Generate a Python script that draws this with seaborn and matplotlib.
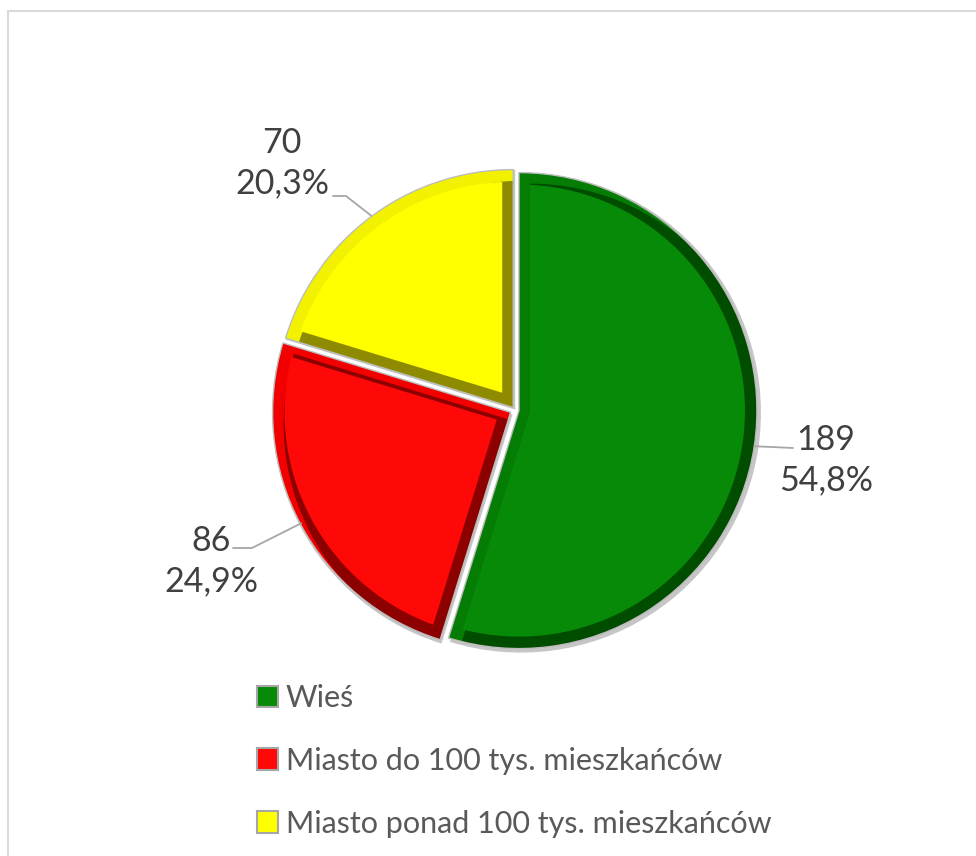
import numpy as np
import matplotlib
matplotlib.use('Agg')
import matplotlib.pyplot as plt
import seaborn as sns
from matplotlib.patches import Wedge, Circle, Patch, Rectangle

# dane
categories = ['Wieś', 'Miasto do 100 tys. mieszkańców', 'Miasto ponad 100 tys. mieszkańców']
counts = [189, 86, 70]
shares = ['54,8%', '24,9%', '20,3%']

face_colors = ['#078a07', '#ff0808', '#ffff00']
dark_colors = ['#004d00', '#8c0000', '#8f8b00']
light_colors = ['#057d05', '#f20000', '#f2f200']

sns.set_theme(style='white')
plt.rcParams['font.family'] = ['Lato', 'DejaVu Sans']

W, H = 976, 856
fig = plt.figure(figsize=(W / 100, H / 100), dpi=100)
ax = fig.add_axes([0, 0, 1, 1])

CX, CY, R = 515, H - 410, 238
wedges, _ = ax.pie(counts, colors=light_colors, startangle=90, counterclock=False,
                   center=(CX, CY), radius=R, explode=[4, 5, 3],
                   wedgeprops=dict(linewidth=0))
ax.set_xlim(0, W); ax.set_ylim(0, H); ax.set_aspect('equal'); ax.axis('off')

# efekt skosu (bevel) dla każdego wycinka
d = 11
for w, dark, face in zip(wedges, dark_colors, face_colors):
    cx, cy = w.center; r = w.r; t1, t2 = w.theta1, w.theta2
    sh = Wedge((cx + 2, cy - 2), r + 2, t1, t2, color='#a0a0a0', alpha=0.6, lw=0, zorder=0.5)
    ax.add_patch(sh)
    w.set_zorder(1)
    dk = Wedge((cx + d, cy - d), r, t1, t2, color=dark, lw=0, zorder=2)
    ax.add_patch(dk); dk.set_clip_path(w)
    half = np.radians((t2 - t1) / 2); mid = np.radians((t1 + t2) / 2)
    s = d / np.sin(half)
    fc = Wedge((cx + s * np.cos(mid), cy + s * np.sin(mid)), r, t1, t2, color=face, lw=0, zorder=3)
    ax.add_patch(fc)
    fc.set_clip_path(Circle((cx, cy), r - 12, transform=ax.transData))
    ax.add_patch(Wedge((cx, cy), r, t1, t2, fill=False, edgecolor='#bdbdbd', lw=1.0, zorder=3.5))

# etykiety z liniami odniesienia (pozycje w pikselach obrazu)
label_pos = [(826, 460), (211, 561), (282, 163)]
leader_pts = [[(793, 448)], [(252, 548), (233, 548)], [(346, 196), (333, 196)]]
for w, n, p, (tx, ty), pts in zip(wedges, counts, shares, label_pos, leader_pts):
    mid = np.radians((w.theta1 + w.theta2) / 2)
    ax0 = CX + (R + 4) * np.cos(mid); ay0 = CY + (R + 4) * np.sin(mid)
    xs = [ax0] + [x for x, _ in pts]; ys = [ay0] + [H - y for _, y in pts]
    ax.plot(xs, ys, color='#a6a6a6', lw=1.3, zorder=4)
    ax.text(tx, H - ty, f'{n}\n{p}', ha='center', va='center', multialignment='center',
            fontsize=24.5, color='#404040', linespacing=1.3, zorder=5)

# ramka obszaru wykresu
ax.add_patch(Rectangle((8, -20), W + 20, H - 11 + 20, fill=False, edgecolor='#d9d9d9', lw=1.5, zorder=0))

handles = [Patch(facecolor=c, edgecolor='#a6a6a6', linewidth=1.5) for c in face_colors]
fig.legend(handles, categories, loc='upper left', bbox_to_anchor=(257 / W, 1 - 684 / H),
           frameon=False, fontsize=22, labelcolor='#595959', handlelength=0.7, handleheight=0.7,
           handletextpad=0.25, labelspacing=1.14, borderaxespad=0, borderpad=0)

fig.savefig('out.png', dpi=100)
